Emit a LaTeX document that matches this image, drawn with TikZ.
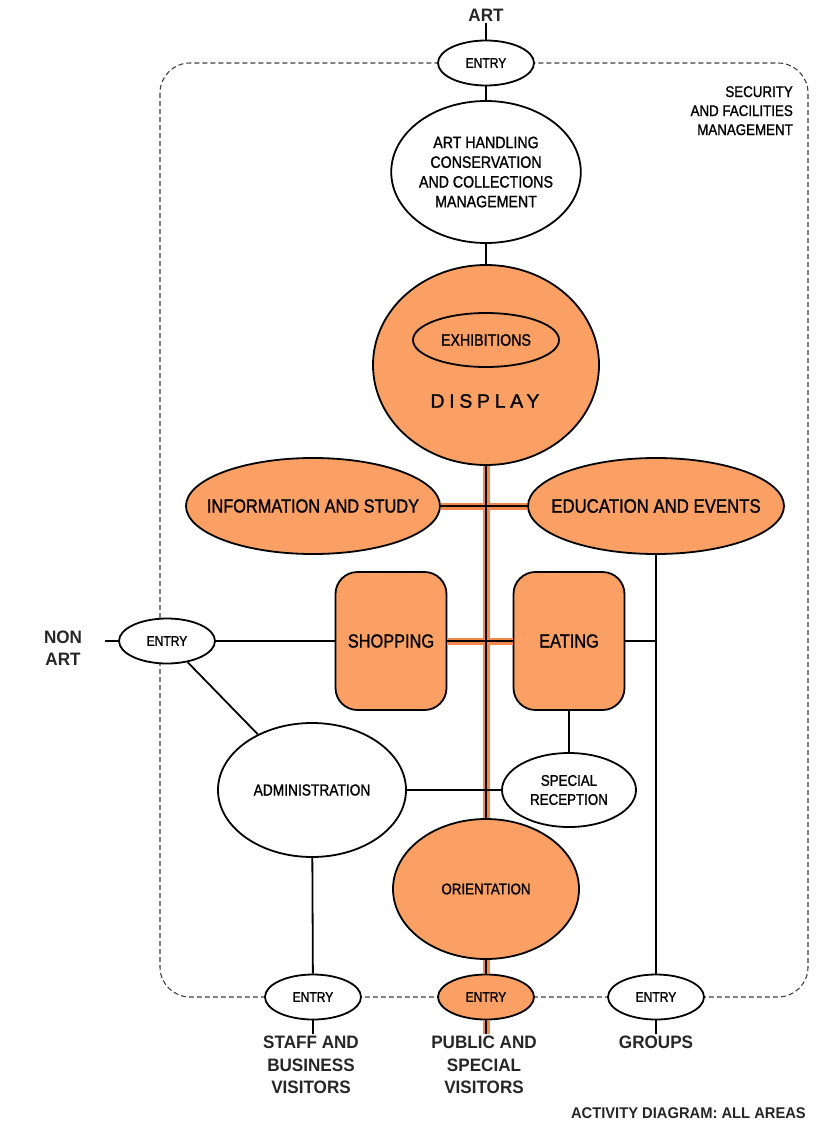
\documentclass[tikz,border=0pt]{standalone}
\usepackage{fontspec}
\setmainfont[FakeStretch=0.86,FakeBold=1.2]{Liberation Sans}
\newfontfamily\lblfont[FakeStretch=0.95]{Liberation Sans}
\newfontfamily\dispfont[LetterSpace=24,FakeBold=1.2]{Liberation Sans}
\usepackage{tikz}
\usetikzlibrary{shapes.geometric}

\definecolor{vorange}{RGB}{250,160,100}
\definecolor{spinecol}{RGB}{242,136,76}

\tikzset{
  bub/.style={ellipse, draw, line width=1.8pt, inner sep=0pt, align=center},
  org/.style={fill=vorange},
  door/.style={bub, fill=white, minimum width=96pt, minimum height=45pt,
    font=\fontsize{14}{16}\selectfont},
  room/.style={draw, line width=1.8pt, rounded corners=22pt, fill=vorange,
    minimum width=111pt, minimum height=138pt, font=\fontsize{19}{22}\selectfont},
  lbl/.style={align=center, text=black!85, inner sep=2pt,
    font=\lblfont\bfseries\fontsize{18}{22.5}\selectfont},
  link/.style={line width=1.8pt},
  spine/.style={line width=7pt, spinecol}
}

\begin{document}
\begin{tikzpicture}[x=1pt,y=-1pt]
    \useasboundingbox (0,0) rectangle (823,1124);
    % security boundary
    \draw[black!75, line width=1.1pt, dash pattern=on 5pt off 3pt, rounded corners=30pt]
      (160,63) rectangle (808,997);

    % areas
    \node[lbl] (art) at (486,15) {ART};
    \node[door] (etop) at (486,63) {ENTRY};
    \node[bub, fill=white, minimum width=186pt, minimum height=142pt,
      font=\fontsize{16.5}{19.7}\selectfont] (arth) at (486,172)
      {ART HANDLING\\CONSERVATION\\AND COLLECTIONS\\MANAGEMENT};
    \node[bub, org, minimum width=226pt, minimum height=200pt] (disp) at (486,365) {};
    \node[bub, org, minimum width=146pt, minimum height=54pt,
      font=\fontsize{16.5}{19}\selectfont] (exhib) at (486,340) {EXHIBITIONS};
    \node[font=\dispfont\fontsize{19.5}{22}\selectfont] (displbl) at (485,401) {DISPLAY};
    \node[bub, org, minimum width=254pt, minimum height=96pt, inner xsep=-18pt,
      font=\fontsize{19}{22}\selectfont] (info) at (313,506) {INFORMATION AND STUDY};
    \node[bub, org, minimum width=256pt, minimum height=96pt, inner xsep=-20pt,
      font=\fontsize{19.5}{22}\selectfont] (edu) at (656,506) {EDUCATION AND EVENTS};
    \node[room] (shop) at (391,641) {SHOPPING};
    \node[room] (eat) at (569,641) {EATING};
    \node[lbl] (nonart) at (63,648) {NON\\ART};
    \coordinate (nonin) at (105,641);
    \node[door] (enon) at (167,641) {ENTRY};
    \node[bub, fill=white, minimum width=188pt, minimum height=134pt,
      font=\fontsize{16}{19}\selectfont] (admin) at (312,790) {ADMINISTRATION};
    \node[bub, fill=white, minimum width=134pt, minimum height=74pt,
      font=\fontsize{15.5}{19}\selectfont] (spec) at (569,790) {SPECIAL\\RECEPTION};
    \node[bub, org, minimum width=186pt, minimum height=140pt,
      font=\fontsize{15.5}{19}\selectfont] (orient) at (486,889) {ORIENTATION};
    \node[door] (estaff) at (313,997) {ENTRY};
    \node[door, org] (epub) at (486,997) {ENTRY};
    \node[door] (egrp) at (656,997) {ENTRY};
    \node[lbl, anchor=north] (staff) at (311,1034) {STAFF AND\\BUSINESS\\VISITORS};
    \node[lbl, anchor=north] (public) at (484,1034) {PUBLIC AND\\SPECIAL\\VISITORS};
    \node[lbl, anchor=north] (groups) at (656,1034) {GROUPS};
    \node[align=right, anchor=north east, inner sep=0pt,
      font=\fontsize{15.5}{19}\selectfont] (secu) at (793,86)
      {SECURITY\\AND FACILITIES\\MANAGEMENT};
    \node[anchor=east, inner sep=0pt, text=black!85,
      font=\lblfont\bfseries\fontsize{15.5}{17}\selectfont] (title) at (806,1113)
      {ACTIVITY DIAGRAM: ALL AREAS};

    % public route
    \draw[spine] (disp.south) -- (orient.north);
    \draw[spine] (info.east) -- (edu.west);
    \draw[spine] (shop.east) -- (eat.west);
    \draw[spine] (orient.south) -- (epub.north);
    \draw[spine] (epub.south) -- (epub.south |- public.north);

    % links
    \draw[link] (disp.south) -- (orient.north);
    \draw[link] (info.east) -- (edu.west);
    \draw[link] (shop.east) -- (eat.west);
    \draw[link] (orient.south) -- (epub.north);
    \draw[link] (epub.south) -- (epub.south |- public.north);
    \draw[link] (art) -- (etop);
    \draw[link] (etop) -- (arth);
    \draw[link] (arth) -- (disp);
    \draw[link] (nonin) -- (enon);
    \draw[link] (enon) -- (shop);
    \draw[link] (enon) -- (admin);
    \draw[link] (eat.east) -- (eat.east -| edu.south);
    \draw[link] (edu.south) -- (egrp.north);
    \draw[link] (eat) -- (spec);
    \draw[link] (admin) -- (spec);
    \draw[link] (admin) -- (estaff);
    \draw[link] (estaff.south) -- (estaff.south |- staff.north);
    \draw[link] (egrp) -- (groups);
\end{tikzpicture}
\end{document}
